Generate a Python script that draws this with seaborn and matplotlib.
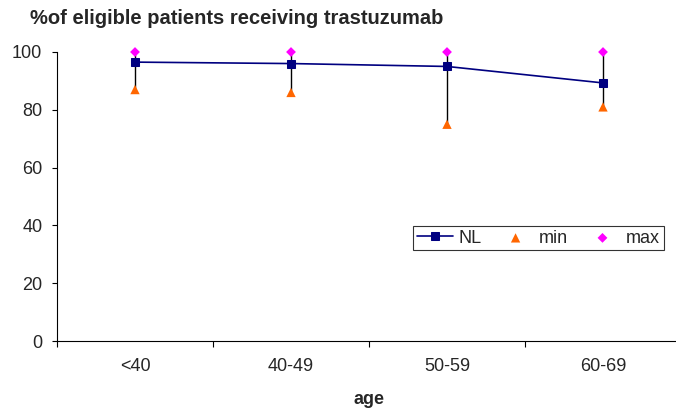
import numpy as np
import pandas as pd
import matplotlib
matplotlib.use('Agg')
import matplotlib.pyplot as plt
import seaborn as sns

# Data
ages = ['<40', '40-49', '50-59', '60-69']
nl_values = [96.5, 96.0, 95.0, 89.3]
min_values = [87.0, 86.0, 75.0, 81.0]
max_values = [100.0, 100.0, 100.0, 100.0]

df = pd.DataFrame({'age': ages, 'NL': nl_values, 'min': min_values, 'max': max_values})
df['pos'] = np.arange(len(ages))

sns.set_theme(style='white')
plt.rcParams['font.family'] = ['Liberation Sans', 'DejaVu Sans']
plt.rcParams['font.size'] = 13

fig = plt.figure(figsize=(6.76, 4.12), dpi=100)
ax = fig.add_axes([57 / 676, 1 - 341 / 412, 624 / 676, 289 / 412])

# high-low lines from min to max
ax.vlines(df['pos'], df['min'], df['max'], color='black', linewidth=1, zorder=1)

sns.lineplot(data=df, x='pos', y='NL', ax=ax, color='#000080', linewidth=1.2,
             marker='s', markersize=5.5, markeredgecolor='#000080', label='NL', zorder=3)
sns.scatterplot(data=df, x='pos', y='min', ax=ax, color='#FF6600', marker='^', s=45,
                edgecolor='none', label='min', zorder=4, clip_on=False)
sns.scatterplot(data=df, x='pos', y='max', ax=ax, color='#FF00FF', marker='D', s=25,
                edgecolor='none', label='max', zorder=4, clip_on=False)

ax.set_xlim(-0.5, 3.5)
ax.set_ylim(0, 100)
ax.set_yticks(range(0, 101, 20))
ax.set_xticks(df['pos'])
ax.set_xticklabels(ages)
ax.set_xticks(np.arange(-0.5, 3.6, 1), minor=True)
ax.tick_params(axis='x', which='major', length=0, pad=12, labelsize=13)
ax.tick_params(axis='x', which='minor', length=4, direction='out', width=0.8, color='black', bottom=True)
ax.tick_params(axis='y', length=3.6, direction='out', width=0.8, color='black', left=True,
               labelsize=13, pad=7)

for side in ['top', 'right']:
    ax.spines[side].set_visible(False)
for side in ['left', 'bottom']:
    ax.spines[side].set_color('black')
    ax.spines[side].set_linewidth(0.8)

ax.set_xlabel('age', fontweight='bold', fontsize=13, labelpad=12)
ax.set_ylabel('')
fig.text(30 / 676, 1 - 18 / 412, '%of eligible patients receiving trastuzumab',
         fontweight='bold', fontsize=14.5, va='center', ha='left')

leg = ax.legend(loc='upper left', bbox_to_anchor=((413 - 57) / 624, 1 - (226 - 52) / 289),
                ncol=3, frameon=True, fancybox=False, edgecolor='black',
                handlelength=2.0, columnspacing=0.9, handletextpad=0.3,
                borderpad=0.2, borderaxespad=0, fontsize=13)
leg.get_frame().set_linewidth(0.8)

fig.savefig('out.png', dpi=100)
